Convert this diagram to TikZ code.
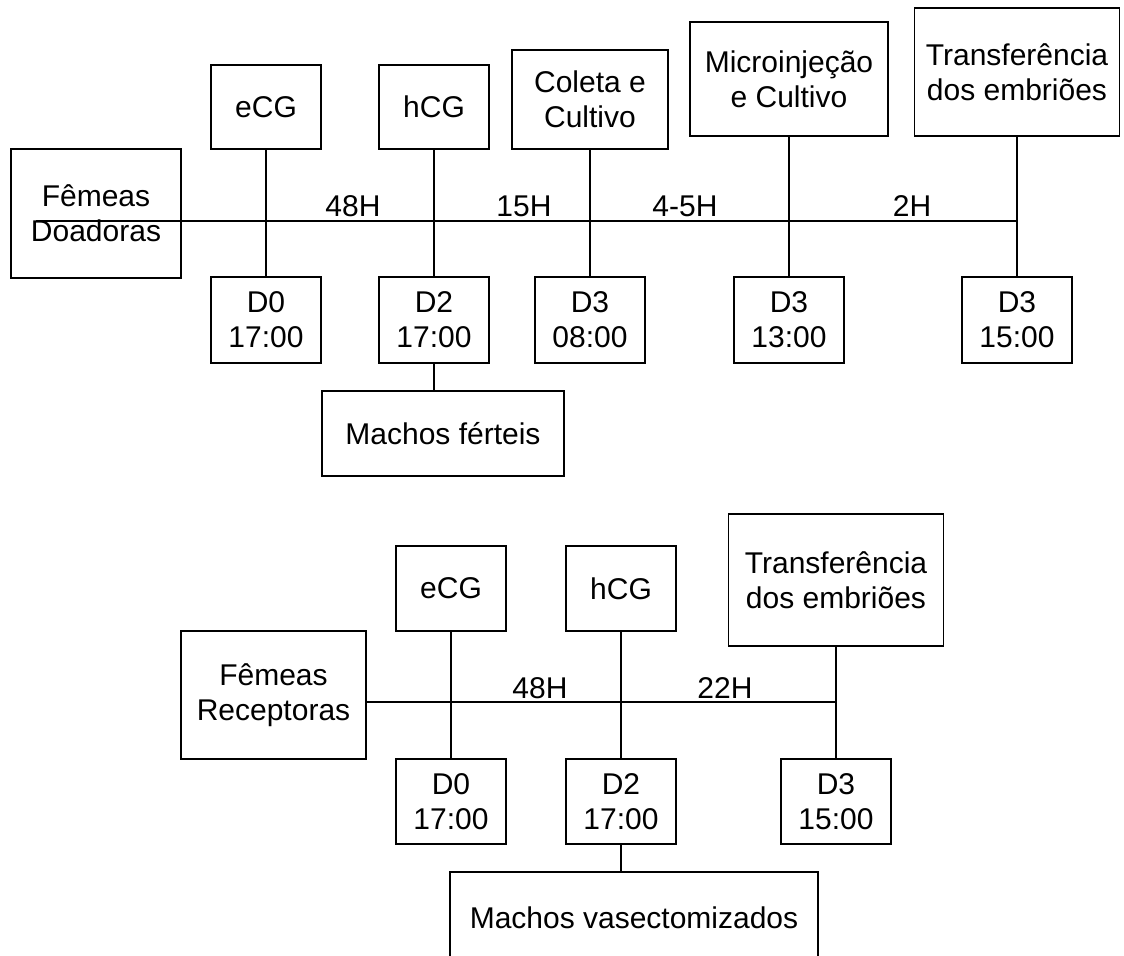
\documentclass[tikz,border=0pt]{standalone}
\usepackage{fontspec}
\setmainfont{Liberation Sans}

\begin{document}
\begin{tikzpicture}[x=0.75pt,y=-0.75pt,line width=1pt,
  caixa/.style={draw,align=center,inner sep=0pt,font=\fontsize{22.5}{26}\selectfont},
  rotulo/.style={inner sep=0pt,font=\fontsize{22.5}{26}\selectfont}]

\useasboundingbox (0,0) rectangle (1124,956);
\clip (0,0) rectangle (1124,956);

% doadoras
\node(fd) at (96,213.5)[caixa,minimum width=127.5pt,minimum height=96.75pt] {F\^emeas\\Doadoras};
\node(ecgA) at (266,107)[caixa,minimum width=82.5pt,minimum height=63pt] {eCG};
\node(hcgA) at (434,107)[caixa,minimum width=82.5pt,minimum height=63pt] {hCG};
\node(col) at (590,99.5)[caixa,minimum width=117pt,minimum height=74.25pt] {Coleta e\\Cultivo};
\node(mic) at (789,79)[caixa,minimum width=148.5pt,minimum height=85.5pt] {Microinje\c{c}\~ao\\e Cultivo};
\node(trA) at (1017,72)[caixa,minimum width=153.75pt,minimum height=96pt] {Transfer\^encia\\dos embri\~oes};

\node(d0A) at (266,320)[caixa,minimum width=82.5pt,minimum height=64.5pt] {D0\\17:00};
\node(d2A) at (434,320)[caixa,minimum width=82.5pt,minimum height=64.5pt] {D2\\17:00};
\node(d3a) at (590,320)[caixa,minimum width=82.5pt,minimum height=64.5pt] {D3\\08:00};
\node(d3b) at (789,320)[caixa,minimum width=82.5pt,minimum height=64.5pt] {D3\\13:00};
\node(d3c) at (1017,320)[caixa,minimum width=82.5pt,minimum height=64.5pt] {D3\\15:00};
\node(mf) at (443,433.5)[caixa,minimum width=181.5pt,minimum height=63.75pt] {Machos f\'erteis};

\node(h1) at (353,206)[rotulo] {48H};
\node(h2) at (524,206)[rotulo] {15H};
\node(h3) at (685,206)[rotulo] {4-5H};
\node(h4) at (912,206)[rotulo] {2H};

\coordinate(iniA) at (36,221);
\draw (iniA) -- (iniA -| d3c);
\draw (ecgA) -- (d0A);
\draw (hcgA) -- (d2A);
\draw (d2A) -- (d2A |- mf.north);
\draw (col) -- (d3a);
\draw (mic) -- (d3b);
\draw (trA) -- (d3c);

% receptoras
\node(fr) at (273.5,695)[caixa,minimum width=138.75pt,minimum height=96pt] {F\^emeas\\Receptoras};
\node(ecgB) at (451,588.5)[caixa,minimum width=82.5pt,minimum height=63.75pt] {eCG};
\node(hcgB) at (621,588.5)[caixa,minimum width=82.5pt,minimum height=63.75pt] {hCG};
\node(trB) at (836,580)[caixa,minimum width=161.25pt,minimum height=99pt] {Transfer\^encia\\dos embri\~oes};

\node(d0B) at (451,801.5)[caixa,minimum width=82.5pt,minimum height=63.75pt] {D0\\17:00};
\node(d2B) at (621,801.5)[caixa,minimum width=82.5pt,minimum height=63.75pt] {D2\\17:00};
\node(d3d) at (836,801.5)[caixa,minimum width=82.5pt,minimum height=63.75pt] {D3\\15:00};
\node(mv) at (634,918)[caixa,minimum width=276pt,minimum height=69pt] {Machos vasectomizados};

\node(h5) at (540,688)[rotulo] {48H};
\node(h6) at (725,688)[rotulo] {22H};

\coordinate(iniB) at (366,702);
\draw (iniB) -- (iniB -| d3d);
\draw (ecgB) -- (d0B);
\draw (hcgB) -- (d2B);
\draw (d2B) -- (d2B |- mv.north);
\draw (trB) -- (d3d);

\end{tikzpicture}
\end{document}
